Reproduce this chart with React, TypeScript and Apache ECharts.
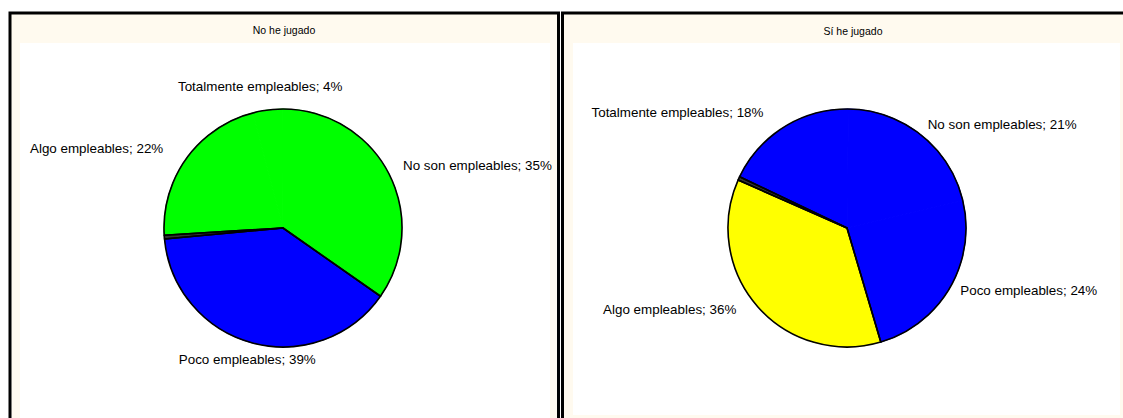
import React, { useEffect, useRef } from "react";
import * as echarts from "echarts";

// ---- data ----
const leftTitle = "No he jugado";
const rightTitle = "Sí he jugado";

// clockwise order as drawn
const leftCategories = ["Poco empleables", "", "Algo empleables", "Totalmente empleables", "No son empleables"];
const leftValues = [39, 0.5, 22, 4, 35];
const leftColors = ["#0000FF", "#333333", "#00FF00", "#00FF00", "#00FF00"];

const rightCategories = ["Algo empleables", "", "Totalmente empleables", "No son empleables", "Poco empleables"];
const rightValues = [36, 0.5, 18, 21, 24];
const rightColors = ["#FFFF00", "#333333", "#0000FF", "#0000FF", "#0000FF"];

// label fine adjustments (style/position), indexed by series then data index
const labelAdjust: Array<Array<{ dx: number; dy: number; align?: string }>> = [
  [
    { dx: -1, dy: 1, align: "center" },
    { dx: 0, dy: 0 },
    { dx: -10, dy: 0 },
    { dx: -5, dy: -7, align: "center" },
    { dx: 0, dy: 0 },
  ],
  [
    { dx: -9, dy: -8 },
    { dx: 0, dy: 0 },
    { dx: -12, dy: 0 },
    { dx: -4, dy: 2 },
    { dx: -4, dy: -5 },
  ],
];

const CREAM = "#FFFAEF";
const FONT = "'Liberation Sans', Arial, sans-serif";

function buildData(cats: string[], vals: number[], colors: string[]) {
  return cats.map((c, i) => ({
    name: c,
    value: vals[i],
    itemStyle: { color: colors[i], borderColor: colors[i], borderWidth: 1 },
    label: { show: c !== "" },
  }));
}

// merge consecutive slices of the same colour, for the outline overlay
function outlineData(vals: number[], colors: string[]) {
  const out: { name: string; value: number }[] = [];
  let prev = "";
  vals.forEach((v, i) => {
    if (colors[i] === prev && out.length) out[out.length - 1].value += v;
    else out.push({ name: "g" + i, value: v });
    prev = colors[i];
  });
  return out;
}

function pieSeries(center: [number, number], startAngle: number, data: any[], si: number) {
  return {
    type: "pie",
    center,
    radius: 119,
    startAngle,
    clockwise: true,
    avoidLabelOverlap: false,
    silent: true,
    z: 5,
    data,
    label: {
      position: "outside",
      formatter: (p: any) => `${p.name}; ${p.value}%`,
      fontFamily: FONT,
      fontSize: 13.4,
      color: "#000",
      distanceToLabelLine: 0,
    },
    labelLine: { show: false, length: 16.5, length2: 0 },
    emphasis: { disabled: true },
    labelLayout: (p: any) => {
      const a = labelAdjust[si][p.dataIndex];
      const out: any = { dx: a.dx, dy: a.dy };
      if (a.align) out.align = a.align;
      return out;
    },
  };
}

function outlineSeries(center: [number, number], startAngle: number, data: any[]) {
  return {
    type: "pie",
    center,
    radius: 119,
    startAngle,
    clockwise: true,
    silent: true,
    z: 6,
    data,
    itemStyle: { color: "rgba(0,0,0,0)", borderColor: "#000", borderWidth: 1.6 },
    label: { show: false },
    labelLine: { show: false },
    emphasis: { disabled: true },
  };
}

export default function App() {
  const ref = useRef<HTMLDivElement>(null);
  useEffect(() => {
    if (!ref.current) return;
    const chart = echarts.init(ref.current, undefined, { renderer: "svg" });
    chart.setOption({
      animation: false,
      backgroundColor: "#ffffff",
      graphic: [
        {
          type: "rect",
          z: 0,
          shape: { x: 10, y: 13, width: 548.5, height: 420 },
          style: { fill: CREAM, stroke: "#000", lineWidth: 3 },
        },
        {
          type: "rect",
          z: 1,
          shape: { x: 20, y: 43, width: 530, height: 400 },
          style: { fill: "#ffffff" },
        },
        {
          type: "rect",
          z: 0,
          shape: { x: 562.5, y: 13, width: 600, height: 420 },
          style: { fill: CREAM, stroke: "#000", lineWidth: 3 },
        },
        {
          type: "rect",
          z: 1,
          shape: { x: 573, y: 43, width: 547, height: 372 },
          style: { fill: "#ffffff" },
        },
        {
          type: "text",
          z: 10,
          x: 284,
          y: 30,
          style: {
            text: leftTitle,
            fontFamily: FONT,
            fontSize: 10.5,
            fill: "#000",
            align: "center",
            verticalAlign: "middle",
          },
        },
        {
          type: "text",
          z: 10,
          x: 853,
          y: 31,
          style: {
            text: rightTitle,
            fontFamily: FONT,
            fontSize: 10.5,
            fill: "#000",
            align: "center",
            verticalAlign: "middle",
          },
        },
      ],
      series: [
        pieSeries([283, 228], -35, buildData(leftCategories, leftValues, leftColors), 0),
        pieSeries([847, 228], -73.5, buildData(rightCategories, rightValues, rightColors), 1),
        outlineSeries([283, 228], -35, outlineData(leftValues, leftColors)),
        outlineSeries([847, 228], -73.5, outlineData(rightValues, rightColors)),
      ],
    });
    return () => chart.dispose();
  }, []);
  return (
    <div
      ref={ref}
      style={{ position: "absolute", left: 0, top: 0, width: 1123, height: 418 }}
    />
  );
}
